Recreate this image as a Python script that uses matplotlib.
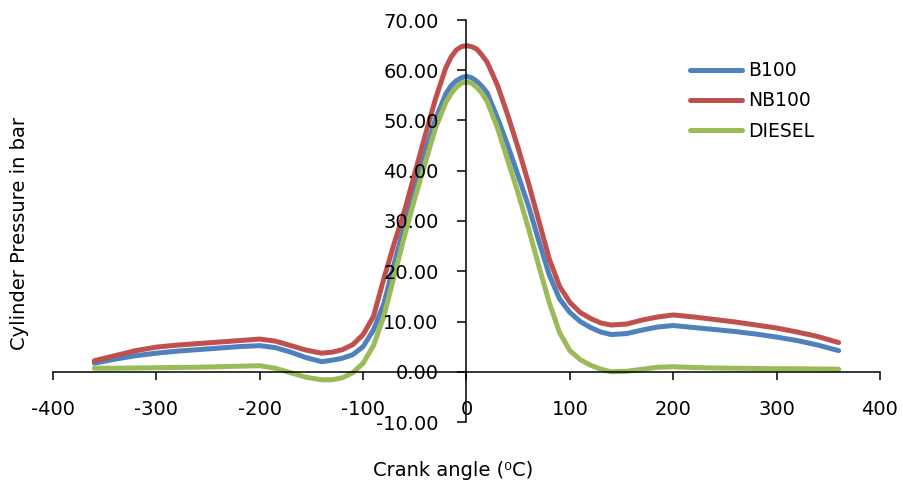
import numpy as np
import matplotlib.pyplot as plt

# crank angle (deg) and cylinder pressure (bar)
angle = [-360, -340, -320, -300, -280, -260, -240, -220, -200, -185, -170, -155,
         -140, -130, -120, -110, -100, -90, -80, -70, -60, -50, -40, -30, -20,
         -15, -10, -5, 0, 5, 10, 15, 20, 30, 40, 50, 60, 70, 80, 90, 100, 110,
         120, 130, 140, 155, 170, 185, 200, 220, 240, 260, 280, 300, 320, 340, 360]

b100 = [1.7, 2.5, 3.2, 3.7, 4.1, 4.4, 4.7, 5.0, 5.2, 4.8, 3.9, 2.8,
        2.0, 2.3, 2.7, 3.4, 5.0, 8.3, 13.5, 21.5, 29.0, 36.3, 43.5, 50.3, 55.3,
        56.9, 57.9, 58.5, 58.8, 58.5, 57.8, 56.8, 55.5, 50.5, 45.0, 39.0, 33.0, 26.0, 19.3, 14.5, 11.8, 10.0,
        8.8, 7.9, 7.4, 7.6, 8.3, 8.9, 9.2, 8.8, 8.4, 8.0, 7.5, 6.9, 6.2, 5.3, 4.2]

nb100 = [2.2, 3.2, 4.2, 4.9, 5.3, 5.6, 5.9, 6.2, 6.5, 6.1, 5.2, 4.3,
         3.7, 3.9, 4.4, 5.4, 7.4, 11.0, 18.5, 25.5, 32.0, 39.5, 47.0, 54.3, 60.5,
         62.6, 64.0, 64.7, 64.9, 64.7, 64.2, 63.0, 61.6, 57.0, 51.0, 44.5, 37.5, 30.0, 22.5, 17.0, 13.8, 11.8,
         10.6, 9.7, 9.3, 9.5, 10.3, 10.9, 11.3, 10.9, 10.4, 9.9, 9.3, 8.7, 7.9, 7.0, 5.8]

diesel = [0.7, 0.7, 0.75, 0.8, 0.85, 0.9, 1.0, 1.1, 1.2, 0.7, -0.2, -1.1,
          -1.6, -1.6, -1.2, -0.2, 1.7, 5.2, 11.0, 19.0, 27.0, 34.5, 41.5, 48.5, 53.6,
          55.3, 56.6, 57.4, 57.7, 57.4, 56.6, 55.4, 53.8, 48.5, 42.0, 35.5, 28.5, 21.0, 13.8, 7.8, 4.2, 2.4,
          1.3, 0.5, 0.0, 0.1, 0.5, 0.9, 1.0, 0.85, 0.75, 0.7, 0.65, 0.6, 0.6, 0.55, 0.5]

series = [('B100', b100, '#4F81BD'), ('NB100', nb100, '#C0504D'), ('DIESEL', diesel, '#9BBB59')]

plt.rcParams['font.family'] = ['DejaVu Sans']
plt.rcParams['axes.unicode_minus'] = False

fig = plt.figure(figsize=(9.04, 4.84), dpi=100)
ax = fig.add_axes([53 / 904, 1 - 422 / 484, 827 / 904, 402 / 484])
ax.set_axisbelow(False)

for name, vals, col in series:
    ax.plot(angle, vals, color=col, lw=3.6, label=name, zorder=2,
            solid_joinstyle='round', solid_capstyle='round')

ax.set_xlim(-400, 400)
ax.set_ylim(-10, 70)
ax.set_xticks(np.arange(-400, 401, 100))
ax.set_yticks(np.arange(-10, 71, 10))
ax.yaxis.set_major_formatter(plt.FuncFormatter(lambda v, p: '%.2f' % v))

for s in ['top', 'right']:
    ax.spines[s].set_visible(False)
ax.spines['left'].set_position(('data', 0))
ax.spines['bottom'].set_position(('data', 0))
for s in ['left', 'bottom']:
    ax.spines[s].set_linewidth(1.1)
    ax.spines[s].set_zorder(3)

ax.tick_params(axis='x', direction='out', length=6, width=1.1, pad=14, labelsize=14)
ax.tick_params(axis='y', direction='out', length=6.5, width=1.1, pad=13.5, labelsize=14)

fig.text(20 / 904, 1 - 234 / 484, 'Cylinder Pressure in bar', rotation=90,
         ha='center', va='center', fontsize=14)
fig.text(453 / 904, 1 - 470 / 484, 'Crank angle (\u2070C)', ha='center', va='center', fontsize=14)

ax.legend(loc='center left', bbox_to_anchor=(690 / 904, 1 - 101 / 484),
          bbox_transform=fig.transFigure, frameon=False, fontsize=13.5,
          handlelength=2.75, handletextpad=0.35, labelspacing=0.6,
          borderpad=0, borderaxespad=0)

plt.savefig('out.png', dpi=100)
